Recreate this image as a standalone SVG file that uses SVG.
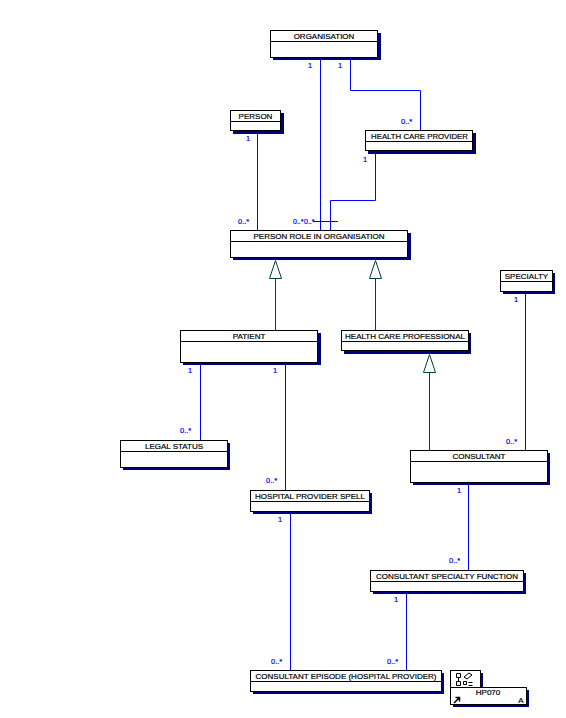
<svg xmlns="http://www.w3.org/2000/svg" width="566" height="718" viewBox="0 0 566 718">
<style>
.s{fill:#000080}
.b{fill:#fff;stroke:#000;stroke-width:1}
.d{stroke:#000;stroke-width:1;fill:none}
.t{font-family:"Liberation Sans",Arial,sans-serif;font-size:8px;fill:#000;stroke:#000;stroke-width:.2;text-anchor:middle}
.c{fill:none;stroke:#0000ff;stroke-width:1}
.g{fill:none;stroke:#004040;stroke-width:1}
.l{font-family:"Liberation Sans",Arial,sans-serif;font-size:7.500px;fill:#0000ff;stroke:#0000ff;stroke-width:.2}
</style>
<rect width="566" height="718" fill="#fff"/>
<g id="connectors">
<path class="c" d="M320.500 57V230M350.500 57V90.500H420.500V130M375.500 151V200.500H330.500V230M257.500 131V230M313 221.500H338M200.500 362V440M285.500 362V490M525.500 291V450M468.500 482V570M290.500 512V670M406.500 592V670"/>
<path class="g" d="M275.500 260.500L269.500 278.500H281.500ZM275.500 278.500V330M375.500 260.500L369.500 278.500H381.500ZM375.500 278.500V330M429.500 354.500L423.500 372.500H435.500ZM429.500 372.500V450"/>
<text class="l" x="308" y="68">1</text><text class="l" x="338" y="68">1</text>
<text class="l" x="401" y="124">0..*</text><text class="l" x="246" y="141">1</text>
<text class="l" x="363" y="162">1</text><text class="l" x="238" y="224">0..*</text>
<text class="l" x="293" y="224" style="font-size:7px">0..*</text><text class="l" x="304" y="224" style="font-size:7px">0..*</text>
<text class="l" x="514" y="302">1</text><text class="l" x="188" y="373">1</text>
<text class="l" x="273" y="373">1</text><text class="l" x="180" y="433">0..*</text>
<text class="l" x="506" y="444">0..*</text><text class="l" x="266" y="483">0..*</text>
<text class="l" x="457" y="493">1</text><text class="l" x="278" y="522">1</text>
<text class="l" x="449" y="563">0..*</text><text class="l" x="394" y="602">1</text>
<text class="l" x="271" y="664">0..*</text><text class="l" x="387" y="664">0..*</text>
</g>
<g id="organisation"><rect class="s" x="273" y="33" width="108" height="27"/><rect class="b" x="270.500" y="30.500" width="107" height="27"/><path class="d" d="M270 41.500H378"/><text class="t" x="324" y="39">ORGANISATION</text></g>
<g id="person"><rect class="s" x="233" y="113" width="51" height="21"/><rect class="b" x="230.500" y="110.500" width="50" height="20"/><path class="d" d="M230 121.500H281"/><text class="t" x="255.500" y="119">PERSON</text></g>
<g id="health-care-provider"><rect class="s" x="368" y="133" width="108" height="21"/><rect class="b" x="365.500" y="130.500" width="107" height="20"/><path class="d" d="M365 141.500H473"/><text class="t" x="419.500" y="139" style="font-size:7.800px">HEALTH CARE PROVIDER</text></g>
<g id="person-role"><rect class="s" x="233" y="233" width="178" height="27"/><rect class="b" x="230.500" y="230.500" width="177" height="27"/><path class="d" d="M230 241.500H408"/><text class="t" x="319" y="239">PERSON ROLE IN ORGANISATION</text></g>
<g id="patient"><rect class="s" x="183" y="333" width="138" height="32"/><rect class="b" x="180.500" y="330.500" width="137" height="32"/><path class="d" d="M180 341.500H318"/><text class="t" x="249" y="339">PATIENT</text></g>
<g id="health-care-professional"><rect class="s" x="344" y="333" width="127" height="21"/><rect class="b" x="341.500" y="330.500" width="127" height="20"/><path class="d" d="M341 341.500H469"/><text class="t" x="405" y="339">HEALTH CARE PROFESSIONAL</text></g>
<g id="specialty"><rect class="s" x="503" y="273" width="52" height="21"/><rect class="b" x="500.500" y="270.500" width="52" height="21"/><path class="d" d="M500 281.500H553"/><text class="t" x="526.500" y="279">SPECIALTY</text></g>
<g id="consultant"><rect class="s" x="413" y="453" width="137" height="32"/><rect class="b" x="410.500" y="450.500" width="137" height="32"/><path class="d" d="M410 461.500H548"/><text class="t" x="479" y="459">CONSULTANT</text></g>
<g id="legal-status"><rect class="s" x="123" y="443" width="107" height="27"/><rect class="b" x="120.500" y="440.500" width="107" height="27"/><path class="d" d="M120 451.500H228"/><text class="t" x="174" y="449">LEGAL STATUS</text></g>
<g id="hospital-provider-spell"><rect class="s" x="253" y="493" width="119" height="21"/><rect class="b" x="250.500" y="490.500" width="119" height="21"/><path class="d" d="M250 501.500H370"/><text class="t" x="310" y="499">HOSPITAL PROVIDER SPELL</text></g>
<g id="consultant-specialty-function"><rect class="s" x="373" y="573" width="153" height="21"/><rect class="b" x="370.500" y="570.500" width="153" height="21"/><path class="d" d="M370 581.500H524"/><text class="t" x="447" y="579">CONSULTANT SPECIALTY FUNCTION</text></g>
<g id="consultant-episode"><rect class="s" x="253" y="673" width="191" height="21"/><rect class="b" x="250.500" y="670.500" width="191" height="21"/><path class="d" d="M250 681.500H442"/><text class="t" x="346" y="679">CONSULTANT EPISODE (HOSPITAL PROVIDER)</text></g>
<g id="hp070"><rect class="s" x="453" y="673" width="30" height="17"/><rect class="s" x="453" y="690" width="76" height="17"/><rect class="b" x="450.500" y="670.500" width="30" height="17"/><rect class="b" x="450.500" y="687.500" width="76" height="17"/><text class="t" x="488" y="695">HP070</text><text class="t" x="521" y="703">A</text>
<path class="d" d="M456.500 673.500h4v4h-4zM456.500 681.500h4v4h-4zM458.500 677.500v4M463.500 681.500h3v3h-3zM468.500 682.500h4M468.500 685.500h4M464 677l5-4 3 2-5 4z"/><path d="M454 703l5-5M455.500 697.500h4v4" fill="none" stroke="#000" stroke-width="1.500"/></g>
</svg>
